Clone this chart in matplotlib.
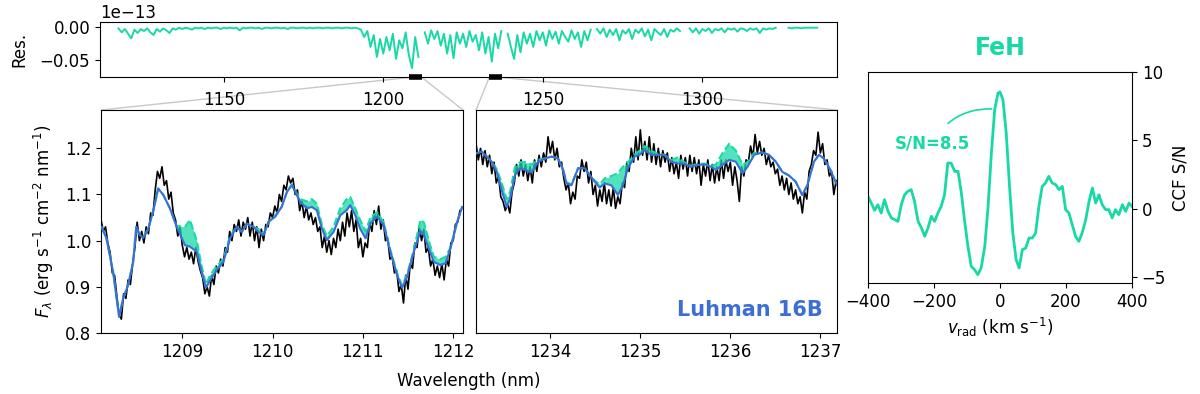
import numpy as np
import matplotlib
matplotlib.use("Agg")
import matplotlib.pyplot as plt
from matplotlib.patches import ConnectionPatch

teal = '#18d9a6'
blue = '#3b6fd6'

# ---- residual (units of 1e-13), 1 nm grid from 1117 to 1336
res_start, res_stop = 1117, 1336
res_vals = [
    -0.002, -0.008, -0.003, -0.010, -0.017, -0.004, -0.009, -0.003, -0.006, -0.002,
    -0.008, -0.012, -0.003, -0.007, -0.002, -0.005, -0.009, -0.002, -0.004, -0.001,
    -0.003, -0.001, -0.002, -0.004, -0.001, -0.002, -0.001, -0.003, -0.001, -0.002,
    -0.001, -0.001, -0.003, -0.001, -0.002, -0.001, -0.002, -0.001, -0.005, -0.001,
    -0.002, -0.001, -0.001, -0.002, -0.001, -0.003, -0.001, -0.001, -0.002, -0.001,
    -0.001, -0.002, -0.001, -0.003, -0.001, -0.001, -0.002, -0.001, -0.001, -0.002,
    -0.001, -0.002, -0.001, -0.001, -0.002, -0.001, -0.001, -0.002, -0.001, -0.001,
    -0.002, -0.001, -0.001, -0.002, -0.001, -0.002, -0.004, -0.015, -0.006, -0.030,
    -0.012, -0.045, -0.018, -0.040, -0.015, -0.035, -0.010, -0.048, -0.020, -0.032,
    -0.008, -0.042, -0.062, -0.015, -0.045, np.nan, -0.008, -0.025, -0.005, -0.018,
    -0.006, -0.028, -0.010, -0.040, -0.012, -0.047, -0.008, -0.025, -0.010, -0.030,
    -0.006, -0.022, -0.012, -0.035, -0.008, -0.040, -0.015, -0.052, -0.010, -0.032,
    -0.006, np.nan, -0.010, -0.030, -0.048, -0.012, -0.038, -0.008, -0.025, -0.010,
    -0.030, -0.006, -0.020, -0.008, -0.028, -0.005, -0.018, -0.007, -0.025, -0.006,
    -0.015, -0.022, -0.005, -0.018, -0.008, -0.030, -0.006, -0.020, -0.004, np.nan,
    -0.003, -0.010, -0.002, -0.015, -0.004, -0.012, -0.003, -0.020, -0.005, -0.010,
    -0.003, -0.018, -0.004, -0.009, -0.002, -0.014, -0.004, -0.020, -0.003, -0.008,
    -0.012, -0.003, -0.015, -0.004, -0.007, -0.002, -0.006, np.nan, np.nan, -0.002,
    -0.008, -0.002, -0.010, -0.003, -0.006, -0.002, -0.009, -0.003, -0.005, -0.002,
    -0.008, -0.002, -0.004, -0.002, -0.007, -0.002, -0.003, -0.006, -0.002, -0.004,
    -0.002, -0.009, -0.002, -0.004, -0.002, -0.003, -0.001, np.nan, np.nan, np.nan,
    -0.001, -0.002, -0.001, -0.001, -0.002, -0.001, -0.001, -0.001, -0.001, -0.001,
]

# ---- left zoom: 1208.1 - 1212.1 nm
wl_a_start, wl_a_step = 1208.10, 0.025
flux_a = [
    1.045, 1.020, 1.030, 0.995, 0.975, 0.930, 0.925, 0.880, 0.840, 0.830,
    0.885, 0.875, 0.915, 0.905, 0.950, 0.985, 1.040, 1.000, 1.020, 0.995,
    1.030, 1.015, 1.060, 1.055, 1.110, 1.150, 1.135, 1.160, 1.120, 1.130,
    1.090, 1.105, 1.060, 1.045, 1.010, 1.030, 0.990, 0.965, 0.985, 0.960,
    0.975, 0.950, 0.985, 0.955, 0.935, 0.920, 0.885, 0.900, 0.880, 0.925,
    0.905, 0.945, 0.930, 0.960, 0.945, 0.985, 0.975, 1.020, 1.000, 1.035,
    1.020, 1.045, 1.010, 1.040, 1.025, 1.050, 1.010, 1.040, 1.000, 1.030,
    0.985, 1.025, 1.000, 1.035, 1.030, 1.060, 1.050, 1.075, 1.060, 1.100,
    1.085, 1.120, 1.110, 1.140, 1.125, 1.135, 1.100, 1.110, 1.065, 1.085,
    1.050, 1.075, 1.045, 1.060, 1.035, 1.050, 1.020, 1.030, 0.985, 1.010,
    0.975, 1.000, 0.970, 1.005, 0.985, 1.025, 1.000, 1.040, 1.010, 1.060,
    1.030, 1.065, 1.020, 1.045, 0.985, 1.005, 0.965, 0.995, 0.985, 1.040,
    1.020, 1.065, 1.035, 1.075, 1.025, 1.045, 1.000, 1.005, 0.960, 0.965,
    0.930, 0.935, 0.890, 0.905, 0.865, 0.925, 0.895, 0.950, 0.940, 0.995,
    0.985, 1.030, 1.000, 1.025, 0.975, 0.985, 0.945, 0.960, 0.925, 0.945,
    0.920, 0.950, 0.915, 0.960, 0.945, 0.995, 1.000, 1.035, 1.040, 1.065,
]
model_wl_a = [
    1208.105, 1208.16, 1208.234, 1208.30, 1208.345, 1208.40, 1208.456, 1208.49,
    1208.53, 1208.567, 1208.62, 1208.68, 1208.733, 1208.79, 1208.863, 1208.937,
    1209.03, 1209.085, 1209.16, 1209.214, 1209.263, 1209.307, 1209.38, 1209.455,
    1209.53, 1209.603, 1209.66, 1209.714, 1209.788, 1209.843, 1209.90, 1209.955,
    1210.03, 1210.10, 1210.16, 1210.213, 1210.25, 1210.306, 1210.38, 1210.435,
    1210.49, 1210.546, 1210.60, 1210.676, 1210.75, 1210.82, 1210.86, 1210.916,
    1210.97, 1211.03, 1211.083, 1211.157, 1211.23, 1211.305, 1211.38, 1211.434,
    1211.49, 1211.564, 1211.638, 1211.675, 1211.73, 1211.786, 1211.86, 1211.915,
    1211.97, 1212.045, 1212.10,
]
model_a = [
    1.030, 1.005, 0.932, 0.835, 0.875, 0.904, 0.954, 1.030,
    1.012, 1.006, 1.023, 1.066, 1.113, 1.099, 1.070, 1.030,
    0.990, 0.987, 0.976, 0.932, 0.898, 0.914, 0.936, 0.954,
    1.005, 1.030, 1.019, 1.037, 1.030, 1.019, 1.012, 1.041,
    1.052, 1.073, 1.106, 1.120, 1.106, 1.084, 1.070, 1.073,
    1.066, 1.026, 1.001, 1.019, 1.055, 1.066, 1.077, 1.055,
    1.026, 1.005, 1.037, 1.052, 1.034, 0.976, 0.925, 0.898,
    0.922, 0.976, 1.021, 1.012, 0.983, 0.954, 0.947, 0.951,
    0.983, 1.041, 1.073,
]
model_feh_a = [
    1.030, 1.005, 0.932, 0.835, 0.875, 0.904, 0.954, 1.030,
    1.012, 1.008, 1.025, 1.066, 1.113, 1.099, 1.070, 1.032,
    1.030, 1.045, 1.000, 0.945, 0.905, 0.925, 0.945, 0.960,
    1.010, 1.030, 1.019, 1.037, 1.030, 1.025, 1.015, 1.041,
    1.055, 1.073, 1.106, 1.122, 1.108, 1.090, 1.085, 1.090,
    1.080, 1.035, 1.010, 1.030, 1.070, 1.090, 1.095, 1.070,
    1.045, 1.020, 1.050, 1.062, 1.040, 0.980, 0.930, 0.903,
    0.927, 0.980, 1.045, 1.040, 1.000, 0.965, 0.960, 0.965,
    0.985, 1.041, 1.073,
]

# ---- middle zoom: 1233.2 - 1237.2 nm
wl_b_start, wl_b_step = 1233.18, 0.025
flux_b = [
    1.210, 1.175, 1.200, 1.165, 1.195, 1.160, 1.185, 1.145, 1.170, 1.125,
    1.140, 1.095, 1.085, 1.065, 1.080, 1.060, 1.105, 1.125, 1.165, 1.140,
    1.175, 1.140, 1.165, 1.130, 1.160, 1.125, 1.175, 1.150, 1.185, 1.160,
    1.190, 1.170, 1.225, 1.190, 1.215, 1.175, 1.200, 1.160, 1.170, 1.135,
    1.110, 1.125, 1.080, 1.105, 1.090, 1.140, 1.135, 1.175, 1.150, 1.170,
    1.125, 1.150, 1.100, 1.120, 1.075, 1.110, 1.085, 1.125, 1.080, 1.110,
    1.075, 1.115, 1.070, 1.095, 1.080, 1.125, 1.115, 1.170, 1.150, 1.200,
    1.170, 1.225, 1.175, 1.240, 1.185, 1.215, 1.175, 1.225, 1.170, 1.210,
    1.165, 1.200, 1.160, 1.195, 1.170, 1.190, 1.150, 1.180, 1.145, 1.170,
    1.135, 1.185, 1.155, 1.180, 1.140, 1.185, 1.150, 1.180, 1.145, 1.175,
    1.120, 1.165, 1.140, 1.175, 1.130, 1.165, 1.125, 1.160, 1.130, 1.175,
    1.135, 1.175, 1.150, 1.170, 1.120, 1.160, 1.130, 1.085, 1.160, 1.140,
    1.175, 1.170, 1.205, 1.180, 1.230, 1.190, 1.215, 1.185, 1.200, 1.165,
    1.185, 1.160, 1.170, 1.145, 1.155, 1.120, 1.140, 1.110, 1.135, 1.100,
    1.125, 1.090, 1.110, 1.080, 1.095, 1.060, 1.105, 1.090, 1.150, 1.165,
    1.195, 1.185, 1.235, 1.190, 1.210, 1.165, 1.175, 1.140, 1.150, 1.100,
    1.130,
]
model_wl_b = [
    1233.18, 1233.244, 1233.30, 1233.354, 1233.41, 1233.465, 1233.52, 1233.557,
    1233.613, 1233.668, 1233.723, 1233.797, 1233.871, 1233.945, 1234.018, 1234.092,
    1234.148, 1234.185, 1234.24, 1234.314, 1234.387, 1234.443, 1234.498, 1234.554,
    1234.609, 1234.683, 1234.756, 1234.812, 1234.867, 1234.941, 1234.996, 1235.052,
    1235.125, 1235.20, 1235.273, 1235.347, 1235.42, 1235.494, 1235.568, 1235.642,
    1235.716, 1235.79, 1235.845, 1235.919, 1235.993, 1236.066, 1236.14, 1236.196,
    1236.27, 1236.36, 1236.435, 1236.51, 1236.583, 1236.657, 1236.73, 1236.804,
    1236.86, 1236.934, 1236.99, 1237.044, 1237.118, 1237.19,
]
model_b = [
    1.189, 1.193, 1.182, 1.171, 1.149, 1.110, 1.073, 1.090,
    1.142, 1.157, 1.153, 1.148, 1.171, 1.178, 1.182, 1.178,
    1.153, 1.124, 1.120, 1.157, 1.157, 1.142, 1.128, 1.115,
    1.124, 1.120, 1.099, 1.120, 1.157, 1.182, 1.186, 1.196,
    1.186, 1.186, 1.186, 1.171, 1.167, 1.167, 1.160, 1.164,
    1.165, 1.160, 1.153, 1.164, 1.175, 1.171, 1.146, 1.160,
    1.186, 1.191, 1.186, 1.171, 1.149, 1.141, 1.128, 1.099,
    1.120, 1.171, 1.186, 1.178, 1.153, 1.120,
]
model_feh_b = [
    1.189, 1.193, 1.182, 1.171, 1.155, 1.125, 1.090, 1.105,
    1.160, 1.170, 1.170, 1.165, 1.175, 1.178, 1.182, 1.178,
    1.153, 1.126, 1.122, 1.157, 1.157, 1.142, 1.130, 1.122,
    1.135, 1.140, 1.146, 1.160, 1.170, 1.186, 1.195, 1.205,
    1.195, 1.188, 1.186, 1.175, 1.180, 1.170, 1.162, 1.166,
    1.167, 1.162, 1.165, 1.190, 1.210, 1.195, 1.165, 1.170,
    1.190, 1.191, 1.186, 1.171, 1.149, 1.141, 1.128, 1.099,
    1.120, 1.171, 1.186, 1.178, 1.153, 1.120,
]

# ---- FeH cross-correlation
ccf_v = [
    -400, -390, -380, -370, -360, -350, -339, -329, -319, -309, -299, -289, -279,
    -269, -259, -248, -238, -228, -218, -208, -198, -188, -178, -168, -158, -148,
    -137, -127, -117, -107, -97, -87, -77, -67, -57, -46, -36, -26, -16, -6, 0,
    9, 19, 29, 39, 49, 58, 68, 78, 88, 98, 108, 118, 128, 138, 148, 158, 169,
    179, 189, 199, 209, 219, 229, 239, 249, 260, 270, 280, 290, 300, 310, 320,
    330, 340, 350, 360, 371, 381, 391, 400,
]
ccf_snr = [
    0.90, 0.41, -0.12, 0.29, -0.32, 0.66, -0.20, -0.68, -0.80, -0.93, 0.29, 1.02, 1.27,
    1.39, 0.54, -0.93, -1.41, -2.02, -1.41, -0.56, -0.93, -0.32, 0.17, 1.02, 3.34, 3.34,
    2.73, 2.73, 1.15, -0.93, -2.76, -4.22, -4.46, -4.83, -4.34, -2.76, 0.17, 4.07, 7.24, 8.46, 8.55,
    7.98, 5.54, 1.63, -1.78, -3.73, -4.34, -3.00, -2.88, -2.15, -2.15, -1.78, 0.17, 1.63, 1.88,
    2.37, 1.88, 1.76, 1.39, 1.63, -0.07, -0.32, -1.17, -2.02, -2.39, -1.78, -0.80, 0.54, 1.51,
    0.41, 1.02, 0.29, -0.07, -0.07, -0.68, -0.07, -0.44, 0.29, -0.20, 0.41, 0.17,
]
snr_peak = 8.5

zoom_a = (1208.10, 1212.11)
zoom_b = (1233.18, 1237.19)

plt.rcParams['font.size'] = 12

fig = plt.figure(figsize=(12, 3.94), dpi=100)
ax_res = fig.add_axes([0.0833, 0.8033, 0.6142, 0.1409])
ax_a = fig.add_axes([0.0842, 0.1548, 0.3017, 0.566])
ax_b = fig.add_axes([0.3967, 0.1548, 0.3008, 0.566])
ax_c = fig.add_axes([0.7233, 0.2817, 0.22, 0.5355])

# residual panel
res_wl = np.arange(res_start, res_stop + 1)
ax_res.plot(res_wl, np.array(res_vals) * 1e-13, color=teal, lw=1.4)
ax_res.set_xlim(1111.2, 1342.2)
ax_res.set_ylim(-0.076e-13, 0.0076e-13)
ax_res.set_yticks([-0.05e-13, 0.0])
ax_res.ticklabel_format(axis='y', style='sci', scilimits=(-13, -13))
ax_res.set_xticks([1150, 1200, 1250, 1300])
ax_res.set_ylabel('Res.', labelpad=8)
ax_res.tick_params(axis='x', pad=6)
ylo = ax_res.get_ylim()[0]
for lo, hi in (zoom_a, zoom_b):
    ax_res.plot([lo, hi], [ylo, ylo], color='black', lw=4, solid_capstyle='butt',
                clip_on=False, zorder=5)

# zoomed spectra
for ax, start, step, flux, mwl, mod, mfeh, lim in (
        (ax_a, wl_a_start, wl_a_step, flux_a, model_wl_a, model_a, model_feh_a, zoom_a),
        (ax_b, wl_b_start, wl_b_step, flux_b, model_wl_b, model_b, model_feh_b, zoom_b)):
    wl = start + step * np.arange(len(flux))
    ax.plot(wl, flux, color='black', lw=1.2, zorder=1)
    ax.fill_between(mwl, mod, mfeh, color=teal, alpha=0.75, lw=0, zorder=2)
    ax.plot(mwl, mfeh, color=teal, lw=1.5, ls='--', zorder=3)
    ax.plot(mwl, mod, color=blue, lw=1.5, zorder=4)
    ax.set_xlim(*lim)
    ax.set_ylim(0.8, 1.283)

ax_a.set_xticks([1209, 1210, 1211, 1212])
ax_a.set_yticks([0.8, 0.9, 1.0, 1.1, 1.2])
ax_a.set_ylabel(r'$F_\lambda$ (erg s$^{-1}$ cm$^{-2}$ nm$^{-1}$)', labelpad=6)
ax_b.set_xticks([1234, 1235, 1236, 1237])
ax_b.set_yticks([])
ax_b.text(0.96, 0.06, 'Luhman 16B', transform=ax_b.transAxes, ha='right', va='bottom',
          color=blue, fontsize=15, fontweight='bold')
fig.text(0.391, 0.01, 'Wavelength (nm)', ha='center', va='bottom', fontsize=12)

# connector lines between overview and zooms
for ax, (lo, hi) in ((ax_a, zoom_a), (ax_b, zoom_b)):
    for xr in (lo, hi):
        con = ConnectionPatch(xyA=(xr, ylo), coordsA=ax_res.transData,
                              xyB=(xr, ax.get_ylim()[1]), coordsB=ax.transData,
                              color='#c8c8c8', lw=1.0, zorder=0)
        fig.add_artist(con)

# CCF panel
ax_c.plot(ccf_v, ccf_snr, color=teal, lw=2)
ax_c.set_xlim(-400, 400)
ax_c.set_ylim(-5.44, 10)
ax_c.set_xticks([-400, -200, 0, 200, 400])
ax_c.set_yticks([-5, 0, 5, 10])
ax_c.yaxis.tick_right()
ax_c.yaxis.set_label_position('right')
ax_c.set_ylabel('CCF S/N')
ax_c.set_xlabel(r'$v_\mathrm{rad}$ (km s$^{-1}$)')
ax_c.set_title('FeH', color=teal, fontsize=17, fontweight='bold', pad=12)
ax_c.annotate(f'S/N={snr_peak}', xy=(-25, 7.3), xytext=(-205, 4.8),
              ha='center', va='center', color=teal, fontsize=12, fontweight='bold',
              arrowprops=dict(arrowstyle='-', color=teal, lw=1.2,
                              connectionstyle='arc3,rad=-0.3', shrinkA=8, shrinkB=0))

fig.savefig('out.png', dpi=100)
